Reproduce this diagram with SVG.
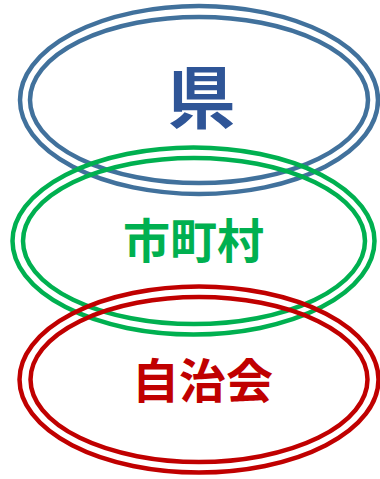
<svg xmlns="http://www.w3.org/2000/svg" width="380" height="479" viewBox="0 0 380 479">
<style>
.ring{fill:none;stroke-width:4.5}
.lbl{font-family:"Noto Sans CJK JP","Noto Sans CJK SC",sans-serif;font-weight:bold;text-anchor:middle}
</style>
<rect width="380" height="479" fill="#fff"/>
<g id="ken">
<ellipse class="ring" cx="199" cy="100" rx="179" ry="94" stroke="#41719C"/>
<ellipse class="ring" cx="199" cy="100" rx="169" ry="83" stroke="#41719C"/>
<text class="lbl" x="201.5" y="123" font-size="68" fill="#2F5597">県</text>
</g>
<g id="shichouson">
<ellipse class="ring" cx="193.5" cy="241" rx="181" ry="93.5" stroke="#00B050"/>
<ellipse class="ring" cx="194" cy="241" rx="171" ry="83" stroke="#00B050"/>
<text class="lbl" x="193.5" y="258" font-size="47" fill="#00B050">市町村</text>
</g>
<g id="jichikai">
<ellipse class="ring" cx="199" cy="379.5" rx="179.5" ry="93" stroke="#C00000"/>
<ellipse class="ring" cx="199" cy="379.5" rx="168.5" ry="82.5" stroke="#C00000"/>
<text class="lbl" x="202.5" y="397.5" font-size="47" fill="#C00000">自治会</text>
</g>
<g id="connectors"/>
</svg>
